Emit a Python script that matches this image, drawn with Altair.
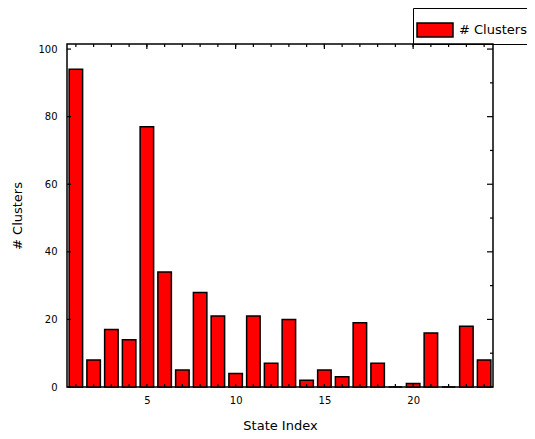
import altair as alt
import pandas as pd

# ---- data ----
states = list(range(1, 25))
clusters = [94, 8, 17, 14, 77, 34, 5, 28, 21, 4, 21, 7, 20, 2, 5, 3, 19, 7, 0, 1, 16, 0, 18, 8]
series_name = "# Clusters"

x_label_values = [5, 10, 15, 20]
x_minor_ticks = list(range(1, 25))
y_label_values = [0, 20, 40, 60, 80, 100]
y_minor_ticks = [10, 30, 50, 70, 90]

W, H = 426, 343
FONT = "DejaVu Sans"

xscale = alt.Scale(domain=[0.5, 24.5], nice=False, zero=False)
yscale = alt.Scale(domain=[0, 101.5], nice=False)

xaxis = alt.Axis(
    values=x_label_values,
    ticks=False,
    domain=False,
    grid=False,
    labelPadding=8,
    labelFont=FONT,
    labelFontSize=10,
    labelColor="black",
    title="State Index",
    titleFont=FONT,
    titleFontSize=13,
    titleFontWeight="normal",
    titleColor="black",
    titlePadding=14,
)
yaxis = alt.Axis(
    values=y_label_values,
    ticks=False,
    domain=False,
    grid=False,
    labelPadding=10,
    labelFont=FONT,
    labelFontSize=10,
    labelColor="black",
    title="# Clusters",
    titleFont=FONT,
    titleFontSize=13,
    titleFontWeight="normal",
    titleColor="black",
    titlePadding=13,
)

df = pd.DataFrame({"state": states, "clusters": clusters, "series": series_name})

bars = (
    alt.Chart(df)
    .transform_calculate(x0="datum.state - 0.38", x1="datum.state + 0.38", base="0")
    .mark_bar(stroke="black", strokeWidth=1.5)
    .encode(
        x=alt.X("x0:Q", scale=xscale, axis=xaxis),
        x2="x1:Q",
        y=alt.Y("clusters:Q", scale=yscale, axis=yaxis),
        y2="base:Q",
        color=alt.Color(
            "series:N",
            scale=alt.Scale(range=["#ff0000"]),
            legend=alt.Legend(
                title=None,
                orient="none",
                legendX=346,
                legendY=-36,
                direction="horizontal",
                symbolType="M-1,-0.39H1V0.39H-1Z",
                symbolSize=1296,
                symbolStrokeColor="black",
                symbolStrokeWidth=1.5,
                symbolOpacity=1,
                labelFont=FONT,
                labelFontSize=13,
                labelColor="black",
                labelOffset=5,
                strokeColor="black",
                padding=3,
            ),
        ),
    )
)


def xticks(vals, y_from, y_to):
    return (
        alt.Chart(pd.DataFrame({"t": vals}))
        .mark_rule(color="black", strokeWidth=1.2)
        .encode(
            x=alt.X("t:Q", scale=xscale, axis=xaxis),
            y=alt.value(y_from),
            y2=alt.value(y_to),
        )
    )


def yticks(vals, x_from, x_to):
    return (
        alt.Chart(pd.DataFrame({"t": vals}))
        .mark_rule(color="black", strokeWidth=1.2)
        .encode(
            y=alt.Y("t:Q", scale=yscale, axis=yaxis),
            x=alt.value(x_from),
            x2=alt.value(x_to),
        )
    )


layers = [
    bars,
    xticks(x_minor_ticks, H, H - 3),
    xticks(x_minor_ticks, 0, 3),
    xticks(x_label_values, 0, 5),
    yticks(y_label_values, 0, 4),
    yticks(y_label_values, W, W - 6),
    yticks(y_minor_ticks, W, W - 3),
]

chart = (
    alt.layer(*layers)
    .properties(
        width=W,
        height=H,
        autosize=alt.AutoSizeParams(type="none"),
        padding={"left": 59, "top": 36, "right": 34, "bottom": 44},
        background="white",
    )
    .configure_view(stroke="black", strokeWidth=1.5)
)

chart.save("out.html", embed_options={"renderer": "svg", "actions": False})
